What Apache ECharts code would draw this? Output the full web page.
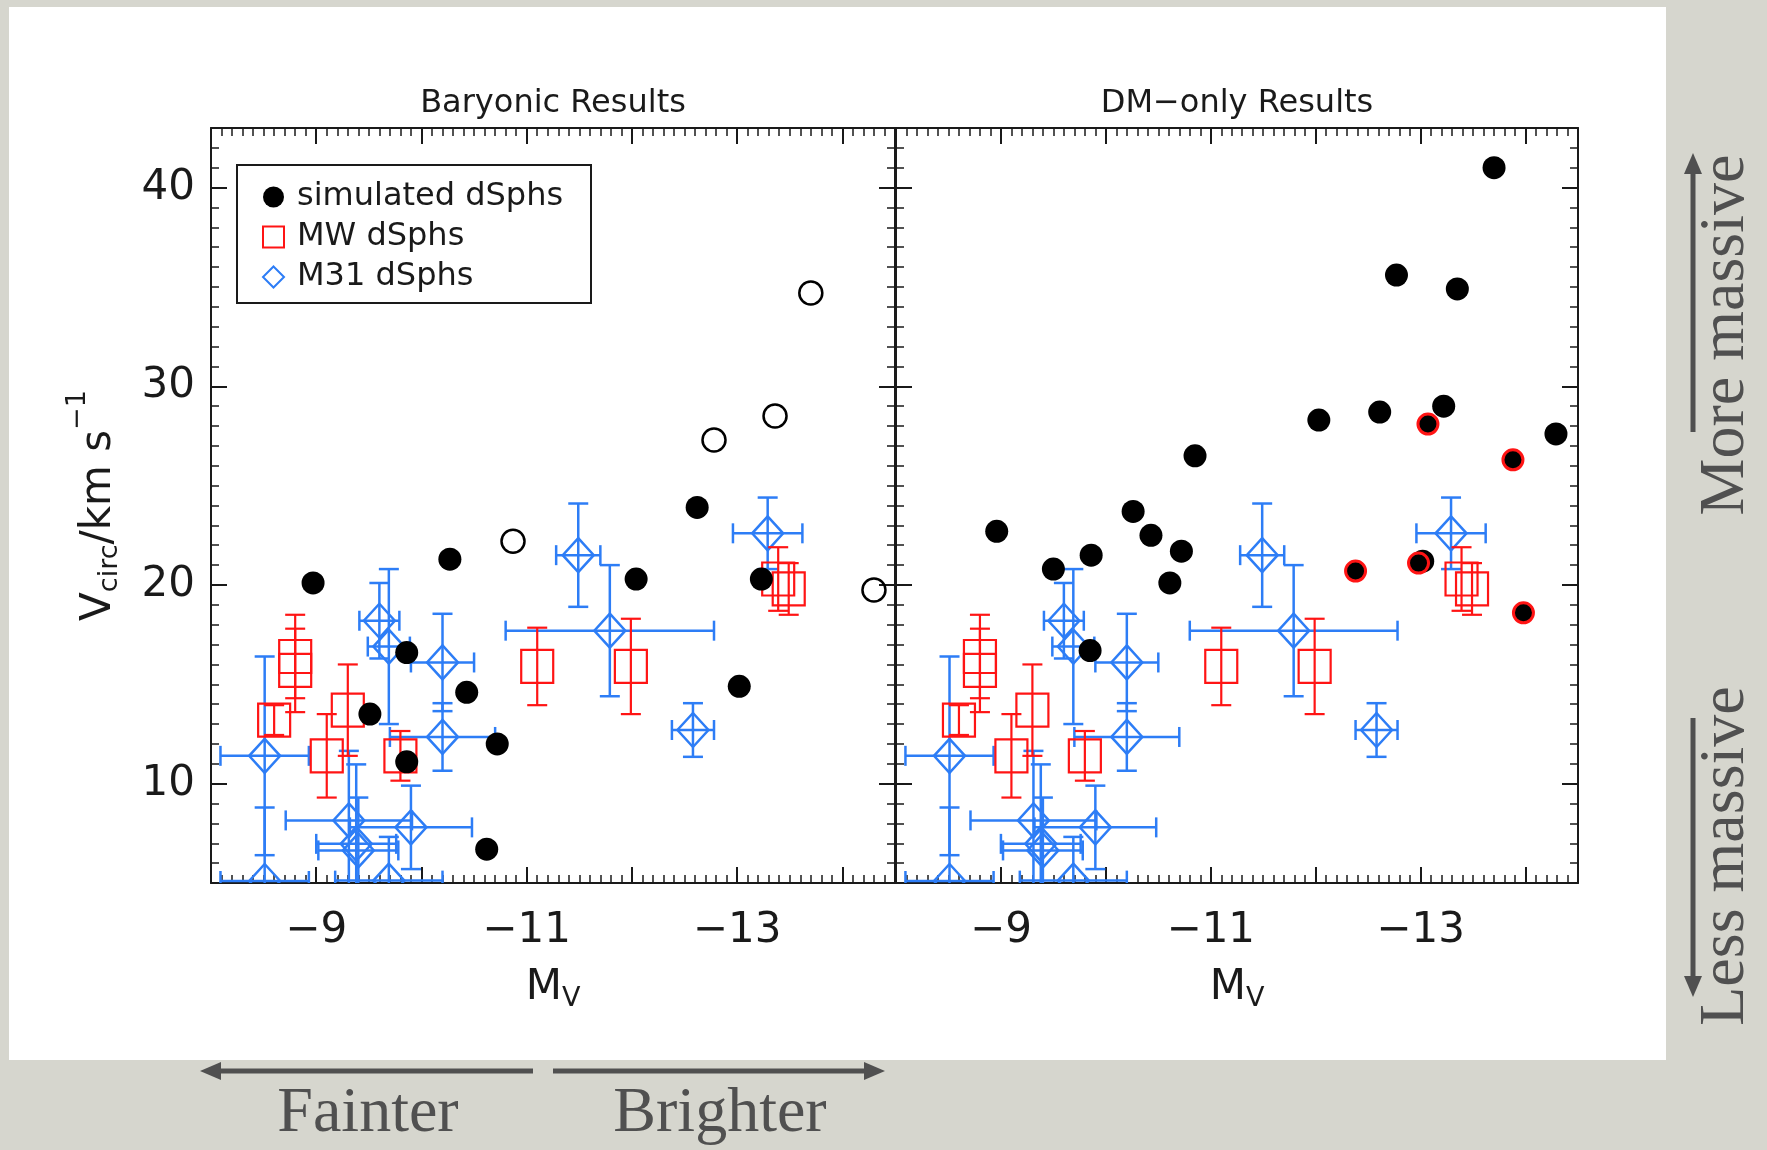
<!DOCTYPE html>
<html>
<head>
<meta charset="utf-8">
<title>Vcirc vs Mv – baryonic and DM-only</title>
<script src="https://cdn.jsdelivr.net/npm/echarts@6.0.0/dist/echarts.min.js"></script>
<style>
  html, body { margin: 0; padding: 0; background: #d6d6ce; }
  #chart { width: 1767px; height: 1150px; }
</style>
</head>
<body>
<div id="chart"></div>
<script>
// ── data ──

// simulated dSphs, baryonic run: filled
var baryX = [-8.97, -10.27, -12.62, -12.04, -13.23, -9.86, -10.43, -9.51, -10.72, -9.86, -13.02, -10.62];
var baryY = [20.1, 21.3, 23.9, 20.3, 20.3, 16.6, 14.6, 13.5, 12.0, 11.1, 14.9, 6.7];
// simulated dSphs, baryonic run: open
var openX = [-10.87, -12.78, -13.36, -13.70, -14.30];
var openY = [22.2, 27.3, 28.5, 34.7, 19.75];

// simulated dSphs, DM-only run
var dmX = [-13.70, -12.77, -13.35, -12.03, -12.61, -13.22, -14.29, -10.85, -8.96, -9.50, -9.86, -10.26, -10.43, -10.72, -10.61, -9.85, -13.02];
var dmY = [41.0, 35.6, 34.9, 28.3, 28.7, 29.0, 27.6, 26.5, 22.7, 20.8, 21.5, 23.7, 22.5, 21.7, 20.1, 16.7, 21.2];
// DM-only, red ringed
var dmRingX = [-13.07, -13.88, -12.38, -12.98, -13.98];
var dmRingY = [28.1, 26.3, 20.7, 21.1, 18.6];

// MW dSphs (y error only)
var mwX = [-8.80, -8.80, -8.60, -9.10, -9.30, -9.80, -11.10, -11.99, -13.39, -13.49];
var mwY = [16.4, 15.7, 13.2, 11.4, 13.7, 11.4, 15.9, 15.9, 20.3, 19.8];
var mwErr = [2.1, 2.1, 0.75, 2.1, 2.3, 1.25, 1.95, 2.4, 1.6, 1.3];

// M31 dSphs (x and y errors)
var m31X = [-8.51, -8.51, -9.60, -9.69, -10.20, -10.20, -11.49, -11.79, -13.29, -12.58, -9.31, -9.90, -9.38, -9.40, -9.69];
var m31Y = [11.4, 5.1, 18.2, 16.9, 16.1, 12.35, 21.5, 17.7, 22.6, 12.7, 8.15, 7.8, 6.97, 6.64, 5.12];
var m31XErr = [0.42, 0.42, 0.19, 0.2, 0.3, 0.5, 0.21, 0.99, 0.33, 0.2, 0.6, 0.58, 0.38, 0.38, 0.51];
var m31YErr = [5.0, 3.7, 1.9, 3.9, 2.45, 1.7, 2.6, 3.3, 1.8, 1.35, 3.5, 2.1, 4.0, 2.66, 2.2];

// axes
var xMajor = [-9, -10, -11, -12, -13, -14];
var xLabels = [-9, -11, -13];
var yMajor = [10, 20, 30, 40];
var yLabels = [10, 20, 30, 40];

var X_MIN = -14.5, X_MAX = -8, Y_MIN = 5, Y_MAX = 43;

// ── styles ──
var RED = '#ff1414';
var BLUE = '#2d7df6';
var INK = '#1a1a1a';
var GREY = '#505050';
var SANS = "'DejaVu Sans', 'Liberation Sans', sans-serif";
var SERIF = "'Liberation Serif', 'DejaVu Serif', serif";
var CAP = 10;

var xMinor = [], yMinor = [];
for (var i = -144; i <= -81; i++) xMinor.push(i / 10);
for (var j = 6; j <= 42; j++) yMinor.push(j);

function zip() {
    var cols = Array.prototype.slice.call(arguments);
    return cols[0].map(function (_, k) { return cols.map(function (c) { return c[k]; }); });
}

var subRich = {
    m: { fontSize: 42, lineHeight: 70, fontFamily: SANS, color: INK },
    sub: { fontSize: 27, lineHeight: 22, padding: [0, 0, 11, 0], verticalAlign: 'bottom', fontFamily: SANS, color: INK },
    sup: { fontSize: 27, lineHeight: 22, verticalAlign: 'top', fontFamily: SANS, color: INK }
};

var axisLine = { show: true, onZero: false, lineStyle: { color: INK, width: 2 } };
var noLine = { show: false, onZero: false };

// ── axes per grid: [bottom major, bottom minor, top major, top minor] ──
function makeXAxes(g, title) {
    var base = { gridIndex: g, type: 'value', min: X_MIN, max: X_MAX, inverse: true, splitLine: { show: false } };
    return [
        Object.assign({}, base, {
            position: 'bottom', axisLine: axisLine,
            axisTick: { inside: true, length: 16, customValues: xMajor, lineStyle: { color: INK, width: 2 } },
            axisLabel: {
                customValues: xLabels, margin: 24, fontSize: 42, lineHeight: 48, fontFamily: SANS, color: INK,
                formatter: function (v) { return '\u2212' + Math.abs(Math.round(v)); }
            },
            name: '{m|M}{sub|V}', nameLocation: 'middle', nameGap: 70,
            nameTextStyle: { rich: subRich }
        }),
        Object.assign({}, base, {
            position: 'bottom', axisLine: noLine,
            axisTick: { inside: true, length: 8, customValues: xMinor, lineStyle: { color: INK, width: 1.5 } },
            axisLabel: { show: false }
        }),
        Object.assign({}, base, {
            position: 'top', axisLine: axisLine,
            axisTick: { inside: true, length: 16, customValues: xMajor, lineStyle: { color: INK, width: 2 } },
            axisLabel: { show: false },
            name: title, nameLocation: 'middle', nameGap: 5,
            nameTextStyle: { fontSize: 32, lineHeight: 38, fontFamily: SANS, color: INK }
        }),
        Object.assign({}, base, {
            position: 'top', axisLine: noLine,
            axisTick: { inside: true, length: 8, customValues: xMinor, lineStyle: { color: INK, width: 1.5 } },
            axisLabel: { show: false }
        })
    ];
}

// ── [left major, left minor, right major, right minor] ──
function makeYAxes(g, labelled) {
    var base = { gridIndex: g, type: 'value', min: Y_MIN, max: Y_MAX, splitLine: { show: false } };
    var leftMajor = Object.assign({}, base, {
        position: 'left', axisLine: axisLine,
        axisTick: { inside: true, length: 16, customValues: yMajor, lineStyle: { color: INK, width: 2 } },
        axisLabel: labelled
            ? { customValues: yLabels, margin: 16, fontSize: 42, fontFamily: SANS, color: INK }
            : { show: false }
    });
    if (labelled) {
        leftMajor.name = '{m|V}{sub|circ}{m|/km s}{sup|\u22121}';
        leftMajor.nameLocation = 'middle';
        leftMajor.nameRotate = 90;
        leftMajor.nameGap = 77;
        leftMajor.nameTextStyle = { rich: subRich };
    }
    return [
        leftMajor,
        Object.assign({}, base, {
            position: 'left', axisLine: noLine,
            axisTick: { inside: true, length: 8, customValues: yMinor, lineStyle: { color: INK, width: 1.5 } },
            axisLabel: { show: false }
        }),
        Object.assign({}, base, {
            position: 'right', axisLine: axisLine,
            axisTick: { inside: true, length: 16, customValues: yMajor, lineStyle: { color: INK, width: 2 } },
            axisLabel: { show: false }
        }),
        Object.assign({}, base, {
            position: 'right', axisLine: noLine,
            axisTick: { inside: true, length: 8, customValues: yMinor, lineStyle: { color: INK, width: 1.5 } },
            axisLabel: { show: false }
        })
    ];
}

// ── error bar renderers ──
function mwItem(params, api) {
    var x = api.value(0), y = api.value(1), e = api.value(2);
    var c = api.coord([x, y]), t = api.coord([x, y + e]), b = api.coord([x, y - e]);
    var st = { stroke: RED, lineWidth: 2.2, fill: 'none' };
    return {
        type: 'group', children: [
            { type: 'line', shape: { x1: t[0], y1: t[1], x2: b[0], y2: b[1] }, style: st },
            { type: 'line', shape: { x1: t[0] - CAP, y1: t[1], x2: t[0] + CAP, y2: t[1] }, style: st },
            { type: 'line', shape: { x1: b[0] - CAP, y1: b[1], x2: b[0] + CAP, y2: b[1] }, style: st },
            { type: 'rect', shape: { x: c[0] - 16, y: c[1] - 16.5, width: 32, height: 33 }, style: st }
        ]
    };
}

function m31Item(params, api) {
    var x = api.value(0), y = api.value(1), dx = api.value(2), dy = api.value(3);
    var c = api.coord([x, y]);
    var l = api.coord([x - dx, y]), r = api.coord([x + dx, y]);
    var t = api.coord([x, y + dy]), b = api.coord([x, y - dy]);
    var st = { stroke: BLUE, lineWidth: 2.5, fill: 'none' };
    var hw = 15.5, hh = 17;
    return {
        type: 'group', children: [
            { type: 'line', shape: { x1: l[0], y1: l[1], x2: r[0], y2: r[1] }, style: st },
            { type: 'line', shape: { x1: l[0], y1: l[1] - CAP, x2: l[0], y2: l[1] + CAP }, style: st },
            { type: 'line', shape: { x1: r[0], y1: r[1] - CAP, x2: r[0], y2: r[1] + CAP }, style: st },
            { type: 'line', shape: { x1: t[0], y1: t[1], x2: b[0], y2: b[1] }, style: st },
            { type: 'line', shape: { x1: t[0] - CAP, y1: t[1], x2: t[0] + CAP, y2: t[1] }, style: st },
            { type: 'line', shape: { x1: b[0] - CAP, y1: b[1], x2: b[0] + CAP, y2: b[1] }, style: st },
            { type: 'polygon', shape: { points: [[c[0], c[1] - hh], [c[0] + hw, c[1]], [c[0], c[1] + hh], [c[0] - hw, c[1]]] }, style: st }
        ]
    };
}

function panelSeries(g, sims) {
    var ax = { xAxisIndex: g * 4, yAxisIndex: g * 4 };
    var list = [
        Object.assign({ name: 'M31 dSphs', type: 'custom', clip: true, z: 2, renderItem: m31Item,
            itemStyle: { color: BLUE }, encode: { x: 0, y: 1 },
            data: zip(m31X, m31Y, m31XErr, m31YErr) }, ax),
        Object.assign({ name: 'MW dSphs', type: 'custom', clip: true, z: 3, renderItem: mwItem,
            itemStyle: { color: RED }, encode: { x: 0, y: 1 },
            data: zip(mwX, mwY, mwErr) }, ax)
    ];
    sims.forEach(function (s) {
        list.push(Object.assign({
            name: 'simulated dSphs', type: 'scatter', z: 4, symbol: 'circle',
            symbolSize: s.size, itemStyle: Object.assign({ opacity: 1 }, s.style), data: s.data
        }, ax));
    });
    return list;
}

function arrow(x1, y1, x2, y2) {
    var dx = x2 - x1, dy = y2 - y1, len = Math.sqrt(dx * dx + dy * dy);
    var ux = dx / len, uy = dy / len, hl = 21, hw = 9;
    var bx = x2 - ux * hl, by = y2 - uy * hl;
    return [
        { type: 'line', silent: true, shape: { x1: x1, y1: y1, x2: bx, y2: by }, style: { stroke: GREY, lineWidth: 5 } },
        { type: 'polygon', silent: true, shape: { points: [[x2, y2], [bx - uy * hw, by + ux * hw], [bx + uy * hw, by - ux * hw]] }, style: { fill: GREY } }
    ];
}

function serifText(text, x, y, rot) {
    return {
        type: 'text', silent: true, x: x, y: y, rotation: rot || 0,
        style: { text: text, font: '64px ' + SERIF, fill: GREY, align: 'center', verticalAlign: 'middle' }
    };
}

var chart = echarts.init(document.getElementById('chart'), null, { renderer: 'canvas' });

var graphics = [
    { type: 'rect', silent: true, z: -10, shape: { x: 9, y: 7, width: 1657, height: 1053 }, style: { fill: '#ffffff' } },
    { type: 'rect', silent: true, z: 5, shape: { x: 237, y: 165, width: 354, height: 138 }, style: { fill: 'none', stroke: INK, lineWidth: 2 } },
    serifText('Fainter', 368, 1114),
    serifText('Brighter', 720, 1114),
    serifText('More massive', 1726, 335, Math.PI / 2),
    serifText('Less massive', 1726, 856, Math.PI / 2)
].concat(arrow(533, 1071, 200, 1071), arrow(553, 1071, 885, 1071),
         arrow(1693, 432, 1693, 153), arrow(1693, 718, 1693, 997));

chart.setOption({
    animation: false,
    backgroundColor: '#d6d6ce',
    grid: [
        { left: 211, top: 128, width: 684, height: 755, outerBoundsMode: 'none' },
        { left: 896, top: 128, width: 682, height: 755, outerBoundsMode: 'none' }
    ],
    xAxis: makeXAxes(0, 'Baryonic Results').concat(makeXAxes(1, 'DM\u2212only Results')),
    yAxis: makeYAxes(0, true).concat(makeYAxes(1, false)),
    legend: {
        data: [
            { name: 'simulated dSphs', icon: 'circle', itemStyle: { color: '#000' } },
            { name: 'MW dSphs', icon: 'rect', itemStyle: { color: 'rgba(0,0,0,0)', borderColor: RED, borderWidth: 2 } },
            { name: 'M31 dSphs', icon: 'diamond', itemStyle: { color: 'rgba(0,0,0,0)', borderColor: BLUE, borderWidth: 2 } }
        ],
        orient: 'vertical', left: 262, top: 181, padding: 0,
        itemWidth: 21, itemHeight: 21, itemGap: 8, selectedMode: false,
        textStyle: { fontFamily: SANS, fontSize: 32, lineHeight: 31, color: INK, padding: [0, 0, 0, 8] }
    },
    graphic: { elements: graphics },
    series: panelSeries(0, [
        { size: 23, style: { color: '#000' }, data: zip(baryX, baryY) },
        { size: 23, style: { color: 'rgba(0,0,0,0)', borderColor: '#000', borderWidth: 2.5 }, data: zip(openX, openY) }
    ]).concat(panelSeries(1, [
        { size: 23, style: { color: '#000' }, data: zip(dmX, dmY) },
        { size: 20, style: { color: '#000', borderColor: RED, borderWidth: 3 }, data: zip(dmRingX, dmRingY) }
    ]))
});

window.addEventListener('resize', function () { chart.resize(); });
</script>
</body>
</html>
